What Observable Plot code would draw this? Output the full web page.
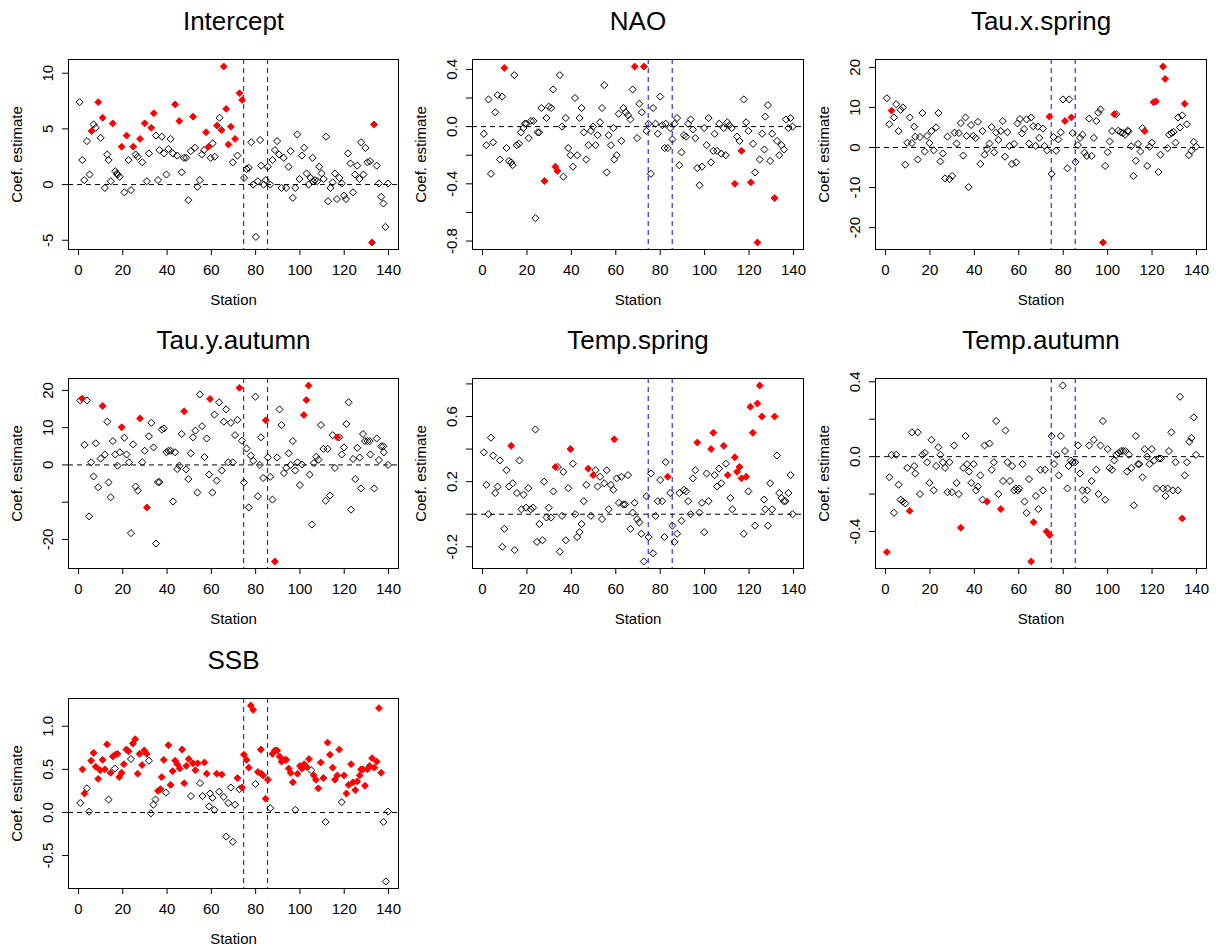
<!DOCTYPE html>
<html>
<head>
<meta charset="utf-8">
<script src="https://cdn.jsdelivr.net/npm/d3@7"></script>
<script src="https://cdn.jsdelivr.net/npm/@observablehq/plot@0.6"></script>
<style>
  html, body { margin: 0; padding: 0; background: #fff; }
  #wrap { position: relative; width: 1218px; height: 949px; background: #fff; overflow: hidden; }
  #wrap > div, #wrap > svg { position: absolute; }
</style>
</head>
<body>
<div id="wrap"></div>
<script>
// [station, coefficient estimate, significant (1 = red filled)]
const intercept = [[0.5,7.4,0],[1.7,2.2,0],[2.6,0.4,0],[3.8,3.9,0],[5,0.9,0],[5.9,4.8,1],[6.8,5.4,0],[7.8,5.1,0],[8.9,7.4,1],[10,4.2,0],[10.9,6.0,1],[11.9,-0.3,0],[13,2.7,0],[13.6,2.2,0],[14.6,0.3,0],[15.5,5.5,1],[16.6,1.2,0],[17.3,1.0,0],[17.6,0.9,0],[18.6,0.7,0],[19.5,3.4,1],[20.7,-0.7,0],[21.7,4.4,1],[22.6,2.2,0],[23.7,-0.5,0],[24.7,3.4,1],[25.8,2.7,0],[26.7,2.5,0],[27.8,4.1,1],[28.8,2.0,0],[29.9,5.5,1],[30.9,0.3,0],[31.8,2.8,0],[32.9,5.1,1],[34,6.4,1],[35,4.4,0],[35.9,0.4,0],[36.5,3.1,0],[37.6,4.3,0],[38.6,2.8,0],[39.7,0.9,0],[40.6,3.2,0],[41.6,4.1,0],[42.6,2.8,0],[43.6,7.2,1],[44.6,2.6,0],[45.5,5.7,1],[46.6,1.1,0],[47.6,2.4,0],[48.6,2.4,0],[49.6,-1.4,0],[50.7,3.0,0],[51.7,6.1,1],[52.6,3.3,0],[53.7,-0.2,0],[54.8,0.4,0],[55.7,2.7,0],[56.7,3.1,0],[57.6,4.7,1],[58.7,3.4,1],[59.7,2.4,0],[60.6,3.7,0],[61.5,2.5,0],[62.6,5.3,1],[63.7,6.0,0],[64.6,4.9,1],[65.6,10.6,1],[66.7,6.8,1],[67.7,3.6,1],[68.8,5.2,1],[69.7,2.0,0],[70.7,4.1,1],[71.8,2.6,0],[72.7,8.2,1],[73.9,7.6,1],[74.8,0.6,0],[75.9,1.4,0],[76.9,1.5,0],[78,3.8,0],[78.9,0,0],[80.1,-4.7,0],[81,0.3,0],[82,4.0,0],[82.5,1.7,0],[83.6,0,0],[84.6,0.4,0],[85.5,1.6,0],[86.6,0,0],[87.6,2.2,0],[88.7,3.1,0],[89.7,3.9,0],[90.6,2.7,0],[91.7,-0.3,0],[92.7,2.4,0],[93.8,-0.3,0],[94.9,1.6,0],[95.8,3.0,0],[96.8,-1.2,0],[97.9,-0.3,0],[98.8,4.5,0],[99.8,0.5,0],[100.9,2.6,0],[101.9,3.3,0],[103,1.0,0],[103.9,0,0],[104.8,0.6,0],[105.7,2.4,0],[105.9,0.3,0],[106.8,0.4,0],[107.8,0.3,0],[108.7,1.6,0],[109.8,1.0,0],[110.7,0.5,0],[111.8,4.3,0],[112.7,-1.5,0],[113.8,-0.3,0],[114.8,0.2,0],[115.8,1.0,0],[116.7,-1.3,0],[117.8,0.6,0],[118.9,0.1,0],[119.9,-1.0,0],[120.8,-1.3,0],[121.7,2.8,0],[122.8,1.9,0],[124,-0.7,0],[124.9,0.9,0],[125.9,1.7,0],[126.9,0.5,0],[127.6,3.8,0],[128.7,0.9,0],[129.6,3.3,0],[130.5,2.0,0],[131.7,2.1,0],[132.6,-5.2,1],[133.5,5.4,1],[134.7,1.7,0],[135.7,0.1,0],[136.7,-1.1,0],[137.7,-1.7,0],[138.6,-3.8,0],[139.8,0.1,0]];

const nao = [[0.6,-0.05,0],[1.7,-0.13,0],[2.7,0.19,0],[3.8,-0.33,0],[4.8,-0.11,0],[5.7,0.10,0],[6.8,0.22,0],[7.8,-0.23,0],[8.8,0.21,0],[9.8,0.41,1],[10.8,-0.15,0],[11.9,-0.24,0],[12.9,-0.25,0],[13.5,-0.27,0],[14.3,0.36,0],[15.4,-0.13,0],[16.4,-0.12,0],[17.3,-0.04,0],[18.4,-0.01,0],[19.1,0.02,0],[19.7,0.02,0],[20.8,-0.08,0],[21.8,0.04,0],[22.9,0.04,0],[23.8,-0.64,0],[24.8,-0.04,0],[25.5,-0.04,0],[26.5,0.13,0],[27.9,-0.38,1],[28.8,0.06,0],[29.8,0.14,0],[30.9,0.13,0],[31.8,0.26,0],[32.8,-0.28,1],[33.7,-0.31,1],[34.8,0.36,0],[35.8,0,0],[36.4,-0.35,0],[37.5,0.06,0],[38.6,-0.15,0],[39.6,-0.20,0],[40.7,-0.28,0],[41.6,0.20,0],[42.6,-0.20,0],[43.7,0.06,0],[44.6,0.13,0],[45.6,-0.04,0],[46.7,-0.23,0],[47.7,-0.13,0],[48.8,-0.03,0],[49.8,0,0],[50.9,-0.13,0],[51.8,-0.06,0],[52.9,0.03,0],[53.8,0.13,0],[54.8,0.29,0],[55.9,-0.32,0],[56.8,-0.06,0],[57.8,-0.13,0],[58.9,-0.01,0],[59.3,-0.23,0],[60.4,-0.20,0],[61.3,0.09,0],[62.5,-0.10,0],[63.4,0.13,0],[64.5,0.10,0],[65.5,0.08,0],[66.6,0.05,0],[67.6,0.26,0],[68.5,0.42,1],[69.6,-0.08,0],[70.6,0.16,0],[71.7,0.10,0],[72.7,0.42,1],[73.8,-0.03,0],[74.7,0.02,0],[75.8,-0.33,0],[76.8,0.13,0],[77.9,0.02,0],[78.9,-0.05,0],[80,0.21,0],[81,0.01,0],[82,-0.15,0],[82.5,0.02,0],[83.4,-0.15,0],[84.5,-0.01,0],[85.5,-0.09,0],[86.4,0.02,0],[87.6,0.06,0],[88.6,-0.27,0],[89.6,-0.18,0],[90.7,-0.06,0],[91.7,-0.07,0],[92.6,0.02,0],[93.7,0.05,0],[94.7,-0.02,0],[95.8,-0.08,0],[96.7,-0.29,0],[97.7,-0.41,0],[98.8,-0.28,0],[99.8,-0.01,0],[100.9,-0.13,0],[101.8,0.06,0],[102.9,-0.25,0],[103.9,-0.17,0],[104.5,-0.05,0],[105.6,-0.17,0],[106.6,0.02,0],[107.5,-0.19,0],[108.6,-0.01,0],[109.5,-0.20,0],[110.2,0.03,0],[111.1,0.01,0],[112.2,-0.01,0],[113.6,-0.40,1],[114.6,-0.07,0],[115.7,-0.10,0],[116.6,-0.17,1],[117.6,0.19,0],[118.7,0.03,0],[119.7,-0.03,0],[120.8,-0.39,1],[121.8,-0.12,0],[122.7,-0.32,0],[123.8,-0.81,1],[124.8,-0.23,0],[125.9,-0.05,0],[126.9,-0.16,0],[127.3,0.07,0],[128.5,0.15,0],[129.5,-0.24,0],[130.4,-0.05,0],[131.5,-0.50,1],[132.6,-0.10,0],[133.6,-0.20,0],[134.6,-0.13,0],[135.7,-0.16,0],[136.6,0.05,0],[137.7,-0.01,0],[138.7,0.06,0],[139.6,0,0]];

const tauXSpring = [[0.6,12.3,0],[1.7,5.8,0],[2.7,9.2,1],[3.8,7.5,0],[4.8,10.8,0],[5.9,4.1,0],[6.8,9.4,0],[7.8,10.0,0],[8.9,-4.3,0],[9.8,1.2,0],[10.9,7.5,0],[11.9,1.1,0],[12.9,5.2,0],[13.4,2.7,0],[14.5,-3.0,0],[15.5,2.6,0],[16.6,8.6,0],[17.6,-1.0,0],[18.7,2.9,0],[19.8,1.1,0],[20.7,4.1,0],[21.7,-0.7,0],[22.8,5.0,0],[23.8,8.6,0],[24.7,-3.5,0],[25.8,-1.5,0],[26.8,-7.7,0],[27.9,2.7,0],[28.8,-7.9,0],[30,-7.1,0],[31.1,3.7,0],[32,1.0,0],[33,3.6,0],[33.9,6.1,0],[35,-2.0,0],[36,7.5,0],[36.5,2.9,0],[37.4,-9.9,0],[38.5,5.6,0],[39.5,2.9,0],[40.6,2.4,0],[41.6,6.4,0],[42.7,-4.1,0],[43.7,4.1,0],[44.6,-1.8,0],[45.7,-0.4,0],[46.8,1.0,0],[47.8,5.1,0],[48.9,-1.2,0],[49.8,3.7,0],[50.8,1.9,0],[51.9,4.1,0],[52.8,6.6,0],[53.8,-2.3,0],[54.9,3.8,0],[55.8,0.4,0],[56.9,-4.1,0],[57.9,0.9,0],[58.8,-3.7,0],[59.4,6.0,0],[60.5,7.1,0],[61.4,3.5,0],[62.4,4.6,0],[63.5,7.0,0],[64.6,1.0,0],[65.6,7.5,0],[66.5,5.3,0],[67.6,0.4,0],[68.6,5.2,0],[69.2,2.4,0],[70.9,4.7,0],[71.6,0.4,0],[72.7,-0.7,0],[73.8,7.7,1],[74.8,-6.6,0],[75.7,2.6,0],[76.8,-0.8,0],[77.8,2.0,0],[78.9,3.8,0],[79.9,12.0,0],[80.8,6.6,1],[81.9,-5.2,0],[82.7,12.0,0],[83.7,7.5,1],[84.3,3.6,0],[85.5,-3.6,0],[86.6,0.6,0],[87.6,2.4,0],[88.7,3.2,0],[89.6,-1.3,0],[90.6,-2.1,0],[91.7,7.2,0],[92.8,-2.1,0],[93.8,2.4,0],[94.9,6.6,0],[95.8,8.7,0],[96.8,9.5,0],[97.9,-23.7,1],[98.9,-4.6,0],[100,-1.2,0],[100.9,1.5,0],[102,4.1,0],[103,8.3,1],[103.9,8.3,0],[104.8,4.2,0],[105.9,3.8,0],[106.9,3.6,0],[107.9,3.2,0],[109,4.2,0],[109.4,4.0,0],[110.6,0.3,0],[111.6,-7.1,0],[112.7,-3.3,0],[113.7,0.9,0],[114.8,-1.0,0],[115.7,4.8,0],[116.7,4.1,1],[117.8,-4.6,0],[118.9,0.2,0],[119.9,1.2,0],[120.7,11.3,1],[121.7,11.5,1],[122.9,-6.1,0],[123.8,-1.8,0],[124.9,20.2,1],[125.9,17.1,1],[127,-0.2,0],[127.7,3.2,0],[128.8,3.6,0],[129.7,3.9,0],[130.6,1.2,0],[131.7,7.5,0],[132.6,5.0,0],[133.6,8.0,0],[134.7,10.9,1],[135.7,5.8,0],[136.6,-1.9,0],[137.7,-0.8,0],[138.8,1.4,0],[139.8,0.2,0]];

const tauYAutumn = [[0.8,17.3,0],[1.7,17.8,1],[2.7,5.4,0],[3.8,17.3,0],[4.8,-13.8,0],[5.7,0.7,0],[6.8,-3.1,0],[7.8,5.8,0],[8.9,-6.0,0],[10,1.7,0],[10.9,15.8,1],[11.9,2.8,0],[13,11.6,0],[13.6,-4.7,0],[14.5,-8.7,0],[15.5,6.4,0],[16.6,2.8,0],[17.6,-0.2,0],[18.7,3.4,0],[19.5,10.1,1],[20.7,7.3,0],[21.7,2.8,0],[22.8,0.7,0],[23.7,-18.3,0],[24.7,5.5,0],[25.8,-5.8,0],[26.8,-6.9,0],[27.8,12.5,1],[28.8,0.7,0],[29.9,3.8,0],[30.9,-11.4,1],[31.8,7.7,0],[32.9,11.3,0],[33.9,4.7,0],[35,-21.1,0],[35.9,-4.6,0],[36.5,-4.6,0],[37.6,9.5,0],[38.6,9.8,0],[39.7,3.4,0],[40.6,3.8,0],[41.6,3.8,0],[42.7,-9.8,0],[43.6,3.4,0],[44.6,-1.1,0],[45.6,-0.2,0],[46.6,8.3,0],[47.7,14.4,1],[48.6,-1.2,0],[49.6,-3.8,0],[50.7,3.1,0],[51.7,7.4,0],[52.8,9.2,0],[53.7,-7.4,0],[54.8,18.9,0],[55.8,10.4,0],[56.9,2.1,0],[57.9,7.1,0],[59,-2.6,0],[59.4,17.7,1],[60.5,-7.4,0],[61.4,13.5,0],[62.4,-4.2,0],[63.5,16.8,0],[64.7,-1.5,0],[65.6,11.6,0],[66.7,14.9,0],[67.6,0.7,0],[68.8,11.3,0],[69.7,0.7,0],[70.7,8.0,0],[71.8,12.1,0],[72.7,20.7,1],[73.8,6.5,0],[74.7,-4.7,0],[75.9,4.4,0],[76.9,-11.4,0],[77.8,2.5,0],[78.9,1.1,0],[79.9,18.3,0],[81,-8.4,0],[81.9,0,0],[82.4,7.4,0],[83.4,-3.5,0],[84.6,12.0,1],[85.5,2.0,0],[86.6,-3.2,0],[87.6,-9.3,0],[88.7,-25.9,1],[89.7,2.0,0],[90.8,14.9,0],[91.7,10.7,0],[92.8,-2.2,0],[93.8,-0.8,0],[94.9,3.1,0],[95.8,0,0],[96.8,6.4,0],[97.9,-1.5,0],[98.9,0.7,0],[100,-5.4,0],[100.9,0.1,0],[101.8,13.4,1],[102.9,17.4,1],[103.9,21.3,1],[104.4,-2.6,0],[105.4,-16.0,0],[106.3,0.5,0],[107.4,2.2,0],[108.4,1.4,0],[109.5,10.7,0],[110.6,4.3,0],[111.6,-9.6,0],[112.5,4.3,0],[113.6,-8.2,0],[114.8,8.0,0],[115.8,-0.8,0],[116.9,7.4,1],[117.8,7.4,0],[118.9,2.8,0],[119.9,4.7,0],[121,11.0,0],[122,16.8,0],[123.1,-12.0,0],[124,1.6,0],[125,-3.8,0],[125.9,4.6,0],[127,2.0,0],[127.6,-6.3,0],[128.5,8.3,0],[129.4,6.4,0],[130.5,6.4,0],[131.5,6.4,0],[131.8,2.8,0],[133.6,-6.3,0],[134.7,7.1,0],[135.7,1.3,0],[136.7,5.0,0],[137.7,5.0,0],[137.9,3.4,0],[139.8,0,0]];

const tempSpring = [[0.6,0.38,0],[1.7,0.18,0],[2.7,0.0,0],[3.8,0.47,0],[4.8,0.36,0],[5.7,0.13,0],[6.8,0.17,0],[7.8,0.33,0],[8.9,-0.20,0],[9.8,-0.09,0],[10.8,0.27,0],[11.9,0.17,0],[12.9,0.42,1],[13.6,0.19,0],[14.5,-0.22,0],[15.5,0.13,0],[16.6,0.33,0],[17.5,0.03,0],[18.5,0.12,0],[19.6,0.04,0],[20.6,0.16,0],[21.7,0.03,0],[22.7,0.04,0],[23.8,0.52,0],[24.5,-0.17,0],[25.6,-0.06,0],[27,-0.16,0],[27.7,0.20,0],[28.8,-0.02,0],[29.8,0.04,0],[30.9,-0.02,0],[31.9,0.14,0],[32.8,0.29,1],[33.9,0.29,0],[34.8,-0.23,0],[35.8,-0.01,0],[36.4,0.26,0],[37.5,-0.16,0],[38.6,0.16,0],[39.6,0.40,1],[40.7,0.31,0],[41.7,0.0,0],[42.6,-0.14,0],[43.7,-0.11,0],[44.6,-0.06,0],[45.6,0.08,0],[46.7,0.18,0],[47.6,0.28,1],[48.8,-0.01,0],[49.8,0.24,1],[50.9,0.27,0],[51.8,0.17,0],[52.9,0.23,0],[53.8,-0.03,0],[54.8,0.19,0],[55.9,0.27,0],[56.8,0.03,0],[57.8,0.18,0],[58.9,0.15,0],[59.3,0.46,1],[60.4,0.22,0],[61.4,0.07,0],[62.5,0.23,0],[63.4,0.06,0],[64.2,0.06,0],[65.5,0.24,0],[66.6,-0.09,0],[67.6,0.01,0],[68.5,0.07,0],[69.6,-0.03,0],[70.6,-0.05,0],[71.5,-0.12,0],[72.6,-0.29,0],[73.8,0.11,0],[74.8,-0.14,0],[75.9,0.25,0],[76.8,-0.24,0],[77.9,-0.01,0],[78.9,0.08,0],[80,0.21,0],[80.9,0.08,0],[81.9,-0.14,0],[82.5,0.32,0],[83.4,0.23,1],[84.5,0.13,0],[85.5,-0.07,0],[86.4,-0.17,0],[87.6,-0.12,0],[88.6,0.13,0],[89.6,-0.04,0],[90.7,0.15,0],[91.7,0.14,0],[92.6,0.08,0],[93.7,0.0,0],[94.7,0.22,0],[95.8,0.27,0],[96.7,0.44,1],[97.7,0.01,0],[98.8,0.07,0],[99.8,-0.11,0],[100.9,0.25,0],[101.8,0.08,0],[102.9,0.40,1],[103.9,0.50,1],[104.5,0.24,0],[105.6,0.17,0],[106.5,0.28,0],[107.5,0.19,0],[108.6,0.42,1],[109.6,0.31,0],[110.4,0.24,1],[111.6,0.10,0],[112.5,0.03,0],[113.6,0.35,1],[114.6,0.26,1],[115.7,0.29,1],[116.6,0.22,1],[117.6,-0.12,0],[118.7,0.23,1],[119.7,0.14,0],[120.6,0.66,1],[121.7,0.50,1],[122.7,-0.07,0],[123.8,0.68,1],[124.8,0.79,1],[125.8,0.60,1],[126.8,0.09,0],[127.3,0.03,0],[128.5,-0.07,0],[129.5,0.19,0],[130.4,0.03,0],[131.5,0.60,1],[132.6,0.36,0],[133.6,0.13,0],[134.6,0.10,0],[135.7,0.08,0],[136.4,0.08,0],[137.7,0.13,0],[138.7,0.24,0],[139.6,0.0,0]];

const tempAutumn = [[0.6,-0.51,1],[1.7,-0.11,0],[2.7,0.01,0],[3.8,-0.30,0],[4.8,0.01,0],[5.9,-0.15,0],[6.8,-0.23,0],[7.8,-0.24,0],[8.9,-0.25,0],[9.8,-0.06,0],[10.9,-0.29,1],[11.9,0.13,0],[12.9,-0.05,0],[13.4,-0.09,0],[14.5,0.13,0],[15.5,-0.20,0],[16.6,0.01,0],[17.7,0.02,0],[18.7,-0.03,0],[19.8,-0.14,0],[20.7,0.09,0],[21.7,-0.18,0],[22.8,-0.05,0],[23.8,0.05,0],[24.7,0.01,0],[25.8,-0.03,0],[26.8,-0.06,0],[27.9,-0.19,0],[28.8,-0.03,0],[29.9,-0.19,0],[30.9,0.06,0],[32,-0.14,0],[33,-0.20,0],[33.9,-0.38,1],[35,-0.06,0],[36,0.11,0],[36.7,-0.04,0],[37.6,-0.08,0],[38.6,-0.14,0],[39.7,-0.04,0],[40.7,-0.18,0],[41.6,-0.16,0],[42.7,-0.10,0],[43.7,-0.23,0],[44.6,0.06,0],[45.7,-0.24,1],[46.8,0.07,0],[47.8,-0.07,0],[48.8,-0.03,0],[49.8,0.19,0],[50.8,-0.20,0],[51.9,-0.28,1],[52.9,-0.13,0],[54,0.14,0],[54.9,-0.03,0],[56,-0.13,0],[57,-0.05,0],[57.9,-0.18,0],[58.7,-0.17,0],[59.6,-0.18,0],[60.2,-0.17,0],[61.7,-0.04,0],[62.6,-0.24,0],[63.5,-0.30,0],[64.6,-0.12,0],[65.6,-0.56,1],[66.7,-0.35,1],[67.7,-0.21,0],[68.8,-0.28,0],[69.7,-0.07,0],[70.9,-0.18,0],[71.8,-0.07,0],[72.5,-0.40,1],[73.9,-0.42,1],[74.8,0.11,0],[75.9,-0.04,0],[77,0.01,0],[78,-0.10,0],[78.9,0.11,0],[79.8,0.38,0],[80.8,0.03,0],[81.9,-0.17,0],[82.4,-0.05,0],[83.4,-0.02,0],[84.3,-0.03,0],[85.4,-0.03,0],[86.7,0.06,0],[87.6,-0.09,0],[88.7,-0.18,0],[89.7,-0.23,0],[90.8,-0.18,0],[91.7,0.06,0],[92.8,-0.13,0],[93.8,0.09,0],[94.9,-0.07,0],[95.9,-0.20,0],[96.8,0.06,0],[97.9,0.19,0],[98.9,-0.23,0],[100,0.04,0],[100.9,-0.06,0],[102,-0.07,0],[103,-0.02,0],[103.9,0.01,0],[104.9,0.02,0],[106,0.03,0],[107,0.03,0],[108,0.03,0],[108.7,-0.08,0],[109.6,0.01,0],[110.7,-0.06,0],[111.8,-0.26,0],[112.7,0.11,0],[113.7,-0.04,0],[114.2,-0.04,0],[115.7,-0.11,0],[116.7,0.04,0],[117.8,0.0,0],[118.9,-0.04,0],[119.9,0.04,0],[121,-0.02,0],[122,-0.17,0],[123.1,-0.01,0],[124,-0.01,0],[125,-0.17,0],[126.1,-0.21,0],[127,-0.17,0],[127.6,0.03,0],[128.7,0.13,0],[129.4,-0.18,0],[130.6,-0.03,0],[131.7,-0.18,0],[132.6,0.32,0],[133.6,-0.33,1],[134.7,-0.10,0],[135.7,-0.03,0],[136.8,0.08,0],[137.7,0.10,0],[138.8,0.21,0],[139.8,0.01,0]];

const ssb = [[0.8,0.11,0],[1.8,0.50,1],[2.7,0.22,1],[3.8,0.28,0],[4.8,0.01,0],[5.7,0.60,1],[6.8,0.69,1],[7.8,0.53,1],[8.9,0.39,1],[9.8,0.49,1],[10.9,0.61,1],[11.9,0.50,1],[12.9,0.79,1],[13.6,0.15,0],[14.5,0.46,1],[15.5,0.65,1],[16.4,0.51,0],[16.6,0.67,1],[17.6,0.68,1],[18.4,0.41,1],[19.5,0.46,1],[20.5,0.56,1],[21.6,0.73,1],[22.6,0.71,1],[23.7,0.62,0],[24.6,0.80,1],[25.6,0.85,1],[26.7,0.45,1],[27.6,0.68,1],[28.7,0.55,1],[29.7,0.72,1],[30.8,0.68,1],[31.8,0.60,0],[32.7,-0.01,0],[33.8,0.09,0],[34.8,0.15,0],[35.9,0.25,1],[37,0.27,1],[37.6,0.41,1],[38.5,0.61,1],[39.5,0.23,0],[40.6,0.78,1],[41.6,0.32,1],[42.5,0.48,1],[43.6,0.60,1],[44.6,0.56,1],[45.7,0.51,1],[46.8,0.73,1],[47.7,0.34,1],[48.7,0.54,1],[49.8,0.62,1],[50.8,0.19,0],[51.7,0.57,1],[52.8,0.49,1],[53.8,0.57,1],[54.9,0.34,0],[56,0.19,0],[56.9,0.58,1],[57.9,0.45,1],[59,0.07,0],[59.4,0.22,0],[60.5,0.17,0],[61.4,0.03,0],[62.4,0.45,1],[63.5,0.24,0],[64.7,0.44,1],[65.6,0.18,0],[66.7,-0.28,0],[67.6,0.11,0],[68.8,0.29,0],[69.7,-0.34,0],[70.7,0.09,0],[71.8,0.40,1],[72.7,0.27,0],[73.8,0.29,1],[74.7,0.67,1],[75.9,0.61,1],[76.9,0.52,1],[77.8,1.24,1],[78.9,1.19,1],[79.9,0.33,0],[81,0.47,1],[82.4,0.73,1],[82.5,0.45,1],[83.4,0.43,1],[84.5,0.16,1],[85.5,0.38,1],[86.6,0.05,0],[87.6,0.68,1],[88.7,0.72,1],[89.7,0.72,1],[90.8,0.65,1],[91.7,0.59,1],[92.8,0.61,1],[93.8,0.61,1],[94.9,0.51,1],[95.8,0.46,1],[96.8,0.35,1],[97.9,0.03,0],[98.9,0.45,1],[100,0.54,1],[101,0.51,1],[101.9,0.56,1],[103,0.53,1],[104.1,0.62,1],[105.1,0.49,0],[106.2,0.43,1],[107.2,0.38,1],[108.3,0.28,1],[109.4,0.58,1],[110.6,0.40,1],[111.6,-0.11,0],[112.5,0.81,1],[113.6,0.67,1],[114.8,0.52,1],[115.8,0.38,1],[116.9,0.43,1],[117.8,0.73,1],[118.9,0.12,0],[119.9,0.43,1],[121,0.22,1],[122,0.32,1],[123.1,0.56,1],[124,0.35,1],[125,0.26,1],[125.9,0.36,1],[127,0.43,1],[127.6,0.50,1],[128.5,0.50,1],[129.4,0.31,1],[130.5,0.50,1],[131.5,0.54,1],[132.6,0.63,1],[133.6,0.52,1],[134.7,0.59,1],[135.7,1.21,1],[136.7,0.46,1],[137.7,-0.11,0],[138.8,-0.80,0],[139.8,0.01,0]];

const titles = ["Intercept", "NAO", "Tau.x.spring", "Tau.y.autumn", "Temp.spring", "Temp.autumn", "SSB"];
const series = [intercept, nao, tauXSpring, tauYAutumn, tempSpring, tempAutumn, ssb];
const yTicks = [
  [-5, 0, 5, 10],
  [-0.8, -0.6, -0.4, -0.2, 0, 0.2, 0.4],
  [-20, -10, 0, 10, 20],
  [-20, -10, 0, 10, 20],
  [-0.2, 0, 0.2, 0.4, 0.6, 0.8],
  [-0.4, -0.2, 0, 0.2, 0.4],
  [-0.5, 0, 0.5, 1.0]
];
const yTickLabels = [
  ["-5", "0", "5", "10"],
  ["-0.8", "", "-0.4", "", "0.0", "", "0.4"],
  ["-20", "-10", "0", "10", "20"],
  ["-20", "", "0", "10", "20"],
  ["-0.2", "", "0.2", "", "0.6", ""],
  ["-0.4", "", "0.0", "", "0.4"],
  ["-0.5", "0.0", "0.5", "1.0"]
];
const xTicks = [0, 20, 40, 60, 80, 100, 120, 140];
const stationExtent = [1, 139];
const breakStations = [74.6, 85.4];
const xLabel = "Station";
const yLabel = "Coef. estimate";

// layout of the plotting boxes (page pixels)
const boxLefts = [68, 472, 875];
const boxWidths = [330, 331, 331];
const boxTops = [59, 378, 698];
const boxHeight = 190;
const FONT = "'Liberation Sans', Arial, Helvetica, sans-serif";

function rExtend([a, b]) { const d = (b - a) * 0.04; return [a - d, b + d]; }

const wrap = document.getElementById("wrap");
series.forEach((data, i) => {
  const col = i % 3, row = Math.floor(i / 3);
  const W = 404, H = 322;
  const mL = 68, mT = 59;
  const mR = W - mL - boxWidths[col];
  const mB = H - mT - boxHeight;
  const ticks = yTicks[i], labs = yTickLabels[i];
  const yDom = rExtend(d3.extent(data, d => d[1]));
  const plot = Plot.plot({
    width: W, height: H,
    marginLeft: mL, marginTop: mT, marginRight: mR, marginBottom: mB,
    style: { fontFamily: FONT, fontSize: "15px", background: "transparent", color: "#000", overflow: "visible" },
    x: { domain: rExtend(stationExtent), ticks: xTicks },
    y: { domain: yDom },
    marks: [
      Plot.ruleY([0], { stroke: "#000", strokeWidth: 1, strokeDasharray: "5,4" }),
      Plot.ruleX(breakStations, { stroke: "#0000ff", strokeWidth: 1, strokeDasharray: "5,4" }),
      Plot.dot(data.filter(d => !d[2]), { x: d => d[0], y: d => d[1], symbol: "diamond2", r: 3.2, stroke: "#000", strokeWidth: 1, fill: "none" }),
      Plot.dot(data.filter(d => d[2]), { x: d => d[0], y: d => d[1], symbol: "diamond2", r: 3.1, stroke: "#ff0000", strokeWidth: 1, fill: "#ff0000" }),
      Plot.frame({ stroke: "#000", strokeWidth: 1 }),
      Plot.axisX({ ticks: xTicks, tickSize: 6, tickPadding: 9, fontSize: 15, stroke: "#000",
        label: xLabel, labelAnchor: "center", labelArrow: "none", labelOffset: 55 }),
      Plot.axisY({ ticks: ticks, tickFormat: d => labs[ticks.indexOf(d)], tickRotate: -90, tickSize: 6, tickPadding: 10,
        fontSize: 15, stroke: "#000",
        label: yLabel, labelAnchor: "center", labelArrow: "none", labelOffset: 57 }),
      Plot.text([titles[i]], { frameAnchor: "top", dy: -30, lineAnchor: "bottom", fontSize: 26, fill: "#000", fontFamily: FONT })
    ]
  });
  plot.style.left = (boxLefts[col] - mL) + "px";
  plot.style.top = (boxTops[row] - mT) + "px";
  wrap.appendChild(plot);
});
</script>
</body>
</html>
